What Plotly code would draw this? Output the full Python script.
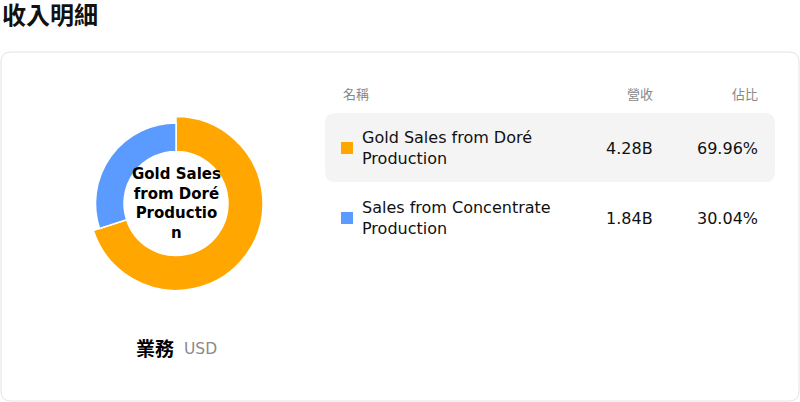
import plotly.graph_objects as go

# 資料
segments = ["Gold Sales from Doré Production", "Sales from Concentrate Production"]
revenue_labels = ["4.28B", "1.84B"]
share_pct = [69.96, 30.04]
colors = ["#ffa600", "#5b9bff"]
highlight = 0  # 目前被強調 (放大) 的項目

title_text = "收入明細"
header_labels = ["名稱", "營收", "佔比"]
center_label = "Gold Sales<br>from Doré<br>Productio<br>n"
footer_main = "業務"
footer_unit = "USD"

W, H = 800, 402
FONT = "DejaVu Sans, Noto Sans CJK TC, sans-serif"


def px(x):
    return x / W


def py(y):
    return 1 - y / H


def round_rect(x0, y0, x1, y1, r):
    # 圓角矩形 (像素座標 -> paper)
    pts = [
        f"M {px(x0 + r)},{py(y0)}",
        f"L {px(x1 - r)},{py(y0)}",
        f"Q {px(x1)},{py(y0)} {px(x1)},{py(y0 + r)}",
        f"L {px(x1)},{py(y1 - r)}",
        f"Q {px(x1)},{py(y1)} {px(x1 - r)},{py(y1)}",
        f"L {px(x0 + r)},{py(y1)}",
        f"Q {px(x0)},{py(y1)} {px(x0)},{py(y1 - r)}",
        f"L {px(x0)},{py(y0 + r)}",
        f"Q {px(x0)},{py(y0)} {px(x0 + r)},{py(y0)}",
        "Z",
    ]
    return " ".join(pts)


fig = go.Figure()

# 甜甜圈: 強調的扇形半徑較大, 其餘較小 (用兩個 pie 疊合)
cx, cy = 176, 203.5
r_in, r_norm, r_big = 52, 80.5, 87
for is_big in (True, False):
    r = r_big if is_big else r_norm
    show = [(i == highlight) == is_big for i in range(len(segments))]
    fig.add_trace(go.Pie(
        labels=segments,
        values=share_pct,
        hole=r_in / r,
        sort=False,
        direction="clockwise",
        rotation=0,
        marker=dict(
            colors=[c if s else "rgba(0,0,0,0)" for c, s in zip(colors, show)],
            line=dict(color=["white" if s else "rgba(0,0,0,0)" for s in show],
                      width=[1.5 if s else 0 for s in show]),
        ),
        textinfo="none",
        hoverinfo="label+percent",
        showlegend=False,
        domain=dict(x=[px(cx - r), px(cx + r)], y=[py(cy + r), py(cy - r)]),
    ))

shapes = [
    dict(type="path", path=round_rect(1, 52, 799, 401, 10), xref="paper", yref="paper",
         line=dict(color="#e2e2ea", width=1), fillcolor="rgba(0,0,0,0)", layer="below"),
    dict(type="path", path=round_rect(325, 113, 775, 182, 10), xref="paper", yref="paper",
         line=dict(width=0), fillcolor="#f4f4f4", layer="below"),
]

annotations = [
    dict(text=f"<b>{title_text}</b>", x=0, y=py(16), xanchor="left", yanchor="middle",
         font=dict(size=24, color="#111111")),
    dict(text=f"<b>{center_label}</b>", x=px(cx), y=py(cy), xanchor="center", yanchor="middle",
         font=dict(size=15, color="#000000")),
    dict(text=f"<b>{footer_main}</b>", x=px(134), y=py(349), xanchor="left", yanchor="middle",
         font=dict(size=19, color="#000000")),
    dict(text=footer_unit, x=px(182), y=py(349), xanchor="left", yanchor="middle",
         font=dict(size=15.5, color="#8a8a8a")),
    dict(text=header_labels[0], x=px(341), y=py(95), xanchor="left", yanchor="middle",
         font=dict(size=13, color="#888888")),
    dict(text=header_labels[1], x=px(655), y=py(95), xanchor="right", yanchor="middle",
         font=dict(size=13, color="#888888")),
    dict(text=header_labels[2], x=px(760), y=py(95), xanchor="right", yanchor="middle",
         font=dict(size=13, color="#888888")),
]

row_y = [148, 218]
for i, name in enumerate(segments):
    yc = row_y[i]
    shapes.append(dict(type="rect", xref="paper", yref="paper",
                       x0=px(341), x1=px(353), y0=py(yc - 6), y1=py(yc + 6),
                       line=dict(width=0), fillcolor=colors[i]))
    words = name.split(" ")
    wrapped = " ".join(words[:-1]) + "<br>" + words[-1]
    annotations += [
        dict(text=wrapped, x=px(360), y=py(yc), xanchor="left", yanchor="middle", align="left",
             font=dict(size=16, color="#111111")),
        dict(text=revenue_labels[i], x=px(655), y=py(yc), xanchor="right", yanchor="middle",
             font=dict(size=16, color="#111111")),
        dict(text=f"{share_pct[i]:.2f}%", x=px(760), y=py(yc), xanchor="right", yanchor="middle",
             font=dict(size=16, color="#111111")),
    ]

for a in annotations:
    a.update(xref="paper", yref="paper", showarrow=False)

fig.update_layout(
    width=W,
    height=H,
    margin=dict(l=0, r=0, t=0, b=0),
    paper_bgcolor="white",
    plot_bgcolor="white",
    font=dict(family=FONT),
    shapes=shapes,
    annotations=annotations,
)

fig.write_html("out.html", config=dict(displayModeBar=False),
               post_script="document.body.style.margin='0';")
